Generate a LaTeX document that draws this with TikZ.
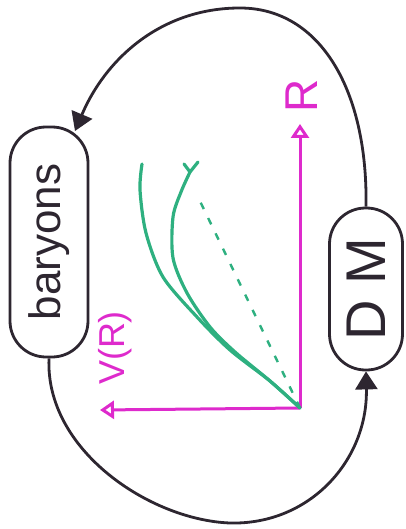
\documentclass[tikz,border=0pt]{standalone}
\usepackage{fontspec}
\setmainfont{Liberation Sans}
\usetikzlibrary{arrows.meta,positioning}
\definecolor{InkBlack}{RGB}{45,38,48}
\definecolor{AxisPink}{RGB}{222,42,204}
\definecolor{CurveGreen}{RGB}{46,176,128}
\tikzset{
  blob/.style={draw=InkBlack,rounded corners=36pt,rotate=90,inner sep=0pt,
               line width=2.8pt,text=InkBlack},
  link/.style={-{Triangle[length=18pt,width=22pt]},InkBlack,line width=2.8pt},
  axis/.style={-{Triangle[open,length=14pt,width=18pt]},AxisPink,line width=3pt},
  lbl/.style={AxisPink,rotate=90,inner sep=0pt},
  curve/.style={CurveGreen,line width=3.2pt,line cap=round,line join=round},
  chord/.style={CurveGreen,line width=2.4pt,dash pattern=on 7pt off 10pt},
}
\begin{document}
\begin{tikzpicture}[x=1pt,y=-1pt]
  \useasboundingbox (0,0) rectangle (406,529);
  % the two halves of the loop
  \node[blob,minimum width=230pt,minimum height=78pt,font=\fontsize{44}{48}\selectfont] (bar) at (49,242) {baryons};
  \node[blob,minimum width=162pt,minimum height=73pt,font=\fontsize{56}{60}\selectfont] (dm) at (366,289) {D M};
  \coordinate (barin) at (75,131);
  \draw[link] (dm.east) .. controls (368,90) and (320,8) .. (240,8)
              .. controls (160,8) and (105,60) .. (barin);
  \draw[link] (bar.west) .. controls (45,450) and (150,520) .. (230,523)
              .. controls (310,525) and (368,460) .. (dm.west);
  % rotation curve axes
  \coordinate (o) at (300,408);
  \coordinate (rend) at (300,124);
  \coordinate (vend) at (100,410);
  \draw[axis] (o) -- (rend);
  \draw[axis] (o) -- (vend);
  \node[lbl,font=\fontsize{46}{50}\selectfont] (rlab) at (302,96) {R};
  \node[lbl,font=\fontsize{36}{40}\selectfont] (vlab) at (115,348) {V(R)};
  % curves
  \coordinate (top1) at (142,164);
  \coordinate (top2) at (190,172);
  \coordinate (chordend) at (197,195);
  \draw[curve] plot[smooth] coordinates {(o) (270,381) (230,350) (197,317) (163,277) (146,233) (140,190) (top1)};
  \draw[curve] plot[smooth] coordinates {(o) (270,381) (235,352) (210,327) (187,293) (173,258) (173,217) (181,192) (top2)};
  \draw[curve] (top2) -- (184,164) (top2) -- (198,162);
  \draw[chord] (o) -- (chordend);
\end{tikzpicture}
\end{document}
